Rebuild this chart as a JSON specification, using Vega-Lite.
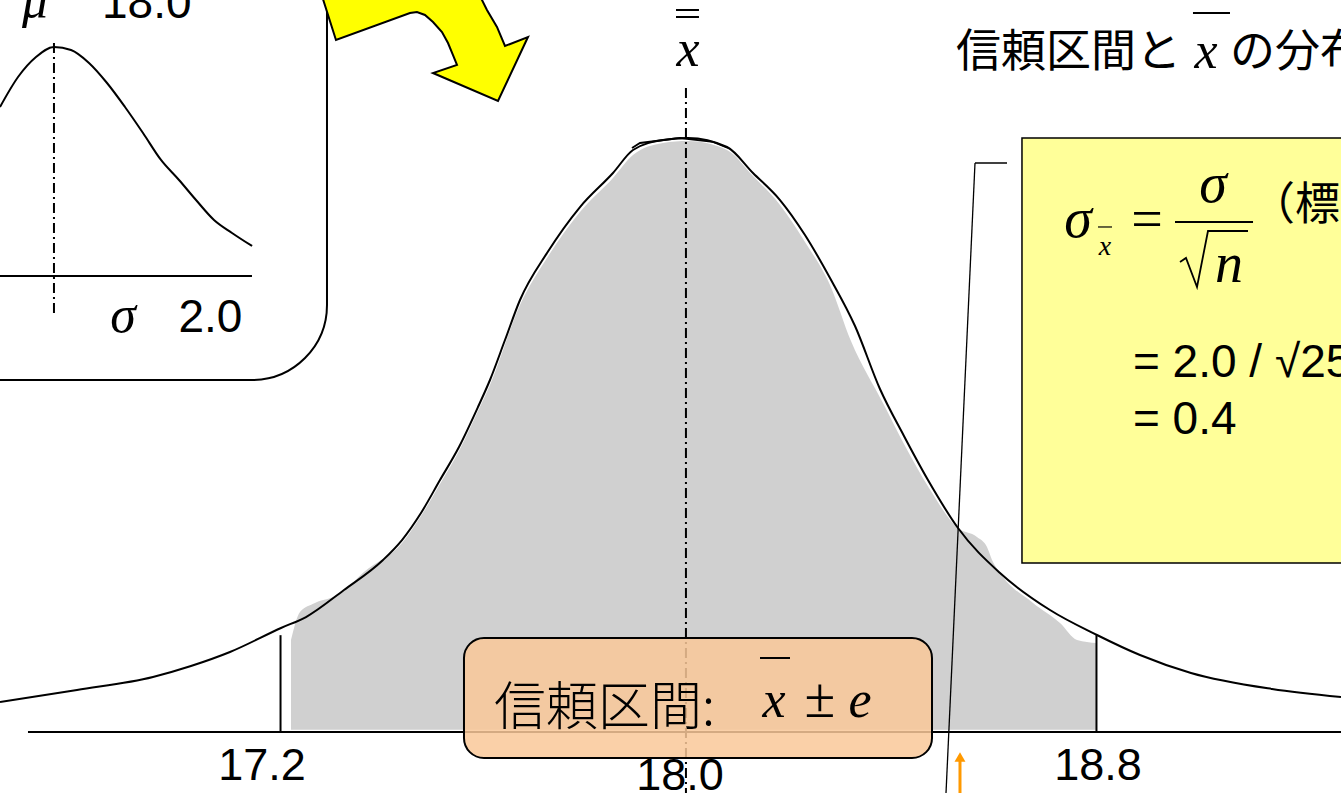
{
  "$schema": "https://vega.github.io/schema/vega-lite/v6.json",
  "width": 1341,
  "height": 793,
  "autosize": {"type": "fit", "contains": "padding"},
  "padding": 0,
  "background": "white",
  "config": {"view": {"stroke": null}},
  "datasets": {
    "curve": [
      {"x": 16.6526, "y": 0.0505}, {"x": 16.8034, "y": 0.0707}, {"x": 16.9522, "y": 0.0926}, {"x": 17.0266, "y": 0.1111},
      {"x": 17.103, "y": 0.1347}, {"x": 17.2029, "y": 0.1751}, {"x": 17.2519, "y": 0.1936}, {"x": 17.3263, "y": 0.2391},
      {"x": 17.4027, "y": 0.2896}, {"x": 17.4399, "y": 0.3232}, {"x": 17.4771, "y": 0.3687}, {"x": 17.5143, "y": 0.4242},
      {"x": 17.5515, "y": 0.4798}, {"x": 17.5887, "y": 0.5471}, {"x": 17.6122, "y": 0.5926}, {"x": 17.6416, "y": 0.6599},
      {"x": 17.671, "y": 0.7273}, {"x": 17.7239, "y": 0.8064}, {"x": 17.7885, "y": 0.8838}, {"x": 17.8531, "y": 0.9411},
      {"x": 17.8923, "y": 0.9798}, {"x": 17.951, "y": 0.9966}, {"x": 18.0, "y": 1.0}, {"x": 18.0764, "y": 0.9848},
      {"x": 18.1273, "y": 0.9411}, {"x": 18.1802, "y": 0.8956}, {"x": 18.2291, "y": 0.8367}, {"x": 18.2781, "y": 0.7643},
      {"x": 18.3271, "y": 0.6835}, {"x": 18.376, "y": 0.5774}, {"x": 18.423, "y": 0.4983}, {"x": 18.47, "y": 0.4242},
      {"x": 18.5288, "y": 0.3434}, {"x": 18.6111, "y": 0.2677}, {"x": 18.709, "y": 0.2054}, {"x": 18.801, "y": 0.1633},
      {"x": 18.8852, "y": 0.1296}, {"x": 18.9851, "y": 0.0993}, {"x": 19.1438, "y": 0.0724}, {"x": 19.2789, "y": 0.0589}
    ],
    "shade": [
      {"x": 17.2225, "y": 0.1549}, {"x": 17.2401, "y": 0.202}, {"x": 17.2695, "y": 0.2172}, {"x": 17.3184, "y": 0.2323},
      {"x": 17.3654, "y": 0.2694}, {"x": 17.4399, "y": 0.3182}, {"x": 17.4771, "y": 0.3636}, {"x": 17.5143, "y": 0.4175},
      {"x": 17.5515, "y": 0.4731}, {"x": 17.5887, "y": 0.5404}, {"x": 17.6122, "y": 0.5842}, {"x": 17.671, "y": 0.7189},
      {"x": 17.7239, "y": 0.798}, {"x": 17.7885, "y": 0.8754}, {"x": 17.8531, "y": 0.9327}, {"x": 17.8923, "y": 0.9714},
      {"x": 17.951, "y": 0.9916}, {"x": 18.0, "y": 0.9949}, {"x": 18.0764, "y": 0.9798}, {"x": 18.1273, "y": 0.936},
      {"x": 18.1802, "y": 0.8872}, {"x": 18.2291, "y": 0.8249}, {"x": 18.2781, "y": 0.7525}, {"x": 18.3192, "y": 0.6582},
      {"x": 18.3839, "y": 0.5505}, {"x": 18.423, "y": 0.4848}, {"x": 18.472, "y": 0.4108}, {"x": 18.5288, "y": 0.3434},
      {"x": 18.566, "y": 0.3283}, {"x": 18.5856, "y": 0.3114}, {"x": 18.5954, "y": 0.2896}, {"x": 18.6111, "y": 0.2677},
      {"x": 18.6757, "y": 0.2172}, {"x": 18.7286, "y": 0.1835}, {"x": 18.7619, "y": 0.1549}, {"x": 18.801, "y": 0.1498}
    ],
    "inset": [
      {"x": 16.6526, "y": 1.0522}, {"x": 16.6879, "y": 1.1027}, {"x": 16.7231, "y": 1.1364}, {"x": 16.7584, "y": 1.1532},
      {"x": 16.7917, "y": 1.1481}, {"x": 16.8269, "y": 1.1263}, {"x": 16.8622, "y": 1.0926}, {"x": 16.8974, "y": 1.0522},
      {"x": 16.9327, "y": 1.0084}, {"x": 16.9679, "y": 0.963}, {"x": 17.0032, "y": 0.9293}, {"x": 17.0365, "y": 0.8956},
      {"x": 17.0717, "y": 0.862}, {"x": 17.107, "y": 0.8401}, {"x": 17.1462, "y": 0.8182}
    ],
    "segs": [
      {"kind": "solid", "x": 16.7074, "x2": 19.2789, "y": 0, "y2": 0},
      {"kind": "solid", "x": 17.202, "x2": 17.202, "y": 0, "y2": 0.163},
      {"kind": "solid", "x": 18.8, "x2": 18.8, "y": 0, "y2": 0.163},
      {"kind": "solid", "x": 16.6526, "x2": 17.1461, "y": 0.7677, "y2": 0.7677},
      {"kind": "solid", "x": 17.9765, "x2": 18.0215, "y": 1.2155, "y2": 1.2155},
      {"kind": "solid", "x": 17.9765, "x2": 18.0215, "y": 1.2037, "y2": 1.2037},
      {"kind": "solid", "x": 18.989, "x2": 19.0615, "y": 1.2104, "y2": 1.2104},
      {"kind": "over", "x": 18.9538, "x2": 19.1066, "y": 0.8586, "y2": 0.8586},
      {"kind": "over", "x": 18.141, "x2": 18.1998, "y": 0.1246, "y2": 0.1246},
      {"kind": "overthin", "x": 18.803, "x2": 18.8304, "y": 0.8502, "y2": 0.8502},
      {"kind": "thin", "x": 18.5621, "x2": 18.5044, "y": 0.9579, "y2": -0.12},
      {"kind": "thin", "x": 18.5621, "x2": 18.6248, "y": 0.9579, "y2": 0.9579},
      {"kind": "dashdot", "x": 17.996, "x2": 17.996, "y": 1.0842, "y2": -0.12},
      {"kind": "dashdot", "x": 16.7583, "x2": 16.7583, "y": 1.1599, "y2": 0.702},
      {"kind": "orange", "x": 18.5327, "x2": 18.5327, "y": -0.0471, "y2": -0.12}
    ],
    "boxes": [
      {"kind": "inset", "x": 16.4567, "x2": 17.293, "y": 1.367, "y2": 0.5926},
      {"kind": "note", "x": 18.6541, "x2": 19.3945, "y": 1.0, "y2": 0.2845},
      {"kind": "ci", "x": 17.5613, "x2": 18.4779, "y": 0.1582, "y2": -0.0438}
    ],
    "arrow": [
      {"o": 1, "x": 17.2832, "y": 1.2391}, {"o": 2, "x": 17.3106, "y": 1.165}, {"o": 3, "x": 17.4555, "y": 1.2104},
      {"o": 4, "x": 17.4692, "y": 1.2121}, {"o": 5, "x": 17.4849, "y": 1.2071}, {"o": 6, "x": 17.5006, "y": 1.1953},
      {"o": 7, "x": 17.5182, "y": 1.1785}, {"o": 8, "x": 17.53, "y": 1.1599}, {"o": 9, "x": 17.5398, "y": 1.1397},
      {"o": 10, "x": 17.5476, "y": 1.1229}, {"o": 11, "x": 17.5006, "y": 1.1094}, {"o": 12, "x": 17.6279, "y": 1.0623},
      {"o": 13, "x": 17.6866, "y": 1.17}, {"o": 14, "x": 17.6416, "y": 1.1549}, {"o": 15, "x": 17.6259, "y": 1.1869},
      {"o": 16, "x": 17.6063, "y": 1.2155}, {"o": 17, "x": 17.5926, "y": 1.2391}, {"o": 18, "x": 17.2832, "y": 1.2391}
    ],
    "paths": [
      {"g": "sqrt", "o": 1, "x": 18.9636, "y": 0.7912}, {"g": "sqrt", "o": 2, "x": 18.9753, "y": 0.798},
      {"g": "sqrt", "o": 3, "x": 18.9969, "y": 0.7492}, {"g": "sqrt", "o": 4, "x": 19.0184, "y": 0.8434},
      {"g": "sqrt", "o": 5, "x": 19.0968, "y": 0.8434},
      {"g": "peak", "o": 1, "x": 17.8903, "y": 0.9832}, {"g": "peak", "o": 2, "x": 17.906, "y": 0.9916},
      {"g": "peak", "o": 3, "x": 17.9843, "y": 1.0}, {"g": "peak", "o": 4, "x": 18.049, "y": 0.9933},
      {"g": "peak", "o": 5, "x": 18.0783, "y": 0.9832}
    ],
    "marker": [{"x": 18.5327, "y": -0.0421}],
    "texts": [
      {"role": "tick", "x": 17.1657, "y": -0.0808, "t": "17.2"},
      {"role": "tick", "x": 17.9843, "y": -0.0976, "t": "18.0"},
      {"role": "tick", "x": 18.803, "y": -0.0808, "t": "18.8"},
      {"role": "num", "x": 16.8524, "y": 1.202, "t": "18.0"},
      {"role": "num", "x": 17.0022, "y": 0.6734, "t": "2.0"},
      {"role": "num", "x": 18.8715, "y": 0.5976, "t": "= 2.0 / √25"},
      {"role": "num", "x": 18.8715, "y": 0.5017, "t": "= 0.4"},
      {"role": "var", "x": 16.7211, "y": 1.2037, "t": "μ"},
      {"role": "var", "x": 16.8935, "y": 0.6734, "t": "σ"},
      {"role": "var", "x": 18.0, "y": 1.1212, "t": "x"},
      {"role": "var", "x": 19.0145, "y": 1.1178, "t": "x"},
      {"role": "var", "x": 18.1684, "y": 0.0253, "t": "x"},
      {"role": "var", "x": 18.3369, "y": 0.0253, "t": "e"},
      {"role": "formula", "x": 18.7638, "y": 0.8333, "t": "σ"},
      {"role": "formula", "x": 19.0282, "y": 0.8923, "t": "σ"},
      {"role": "formula", "x": 19.0595, "y": 0.7576, "t": "n"},
      {"role": "sub", "x": 18.8167, "y": 0.803, "t": "x"},
      {"role": "op", "x": 18.899, "y": 0.8316, "t": "="},
      {"role": "op", "x": 18.2585, "y": 0.0253, "t": "±"},
      {"role": "jp", "x": 18.5249, "y": 1.1195, "t": "信頼区間と"},
      {"role": "jp", "x": 19.0615, "y": 1.1195, "t": "の分布"},
      {"role": "jp", "x": 19.1007, "y": 0.862, "t": "（標準誤差）"},
      {"role": "jpbox", "x": 17.6201, "y": 0.0118, "t": "信頼区間:"}
    ]
  },
  "encoding": {
    "x": {"field": "x", "type": "quantitative", "scale": {"domain": [16.6526, 19.2789], "nice": false, "zero": false}, "axis": null},
    "y": {"field": "y", "type": "quantitative", "scale": {"domain": [-0.10269, 1.23232], "nice": false, "zero": false}, "axis": null}
  },
  "layer": [
    {
      "data": {"name": "shade"},
      "mark": {"type": "area", "color": "#d0d0d0", "interpolate": "monotone", "clip": true},
      "encoding": {"y2": {"datum": 0.004}}
    },
    {
      "data": {"name": "curve"},
      "mark": {"type": "line", "color": "black", "strokeWidth": 2, "interpolate": "monotone", "clip": true},
      "encoding": {}
    },
    {
      "data": {"name": "segs"},
      "transform": [{"filter": "datum.kind === 'solid'"}],
      "mark": {"type": "rule", "color": "black", "strokeWidth": 2, "clip": true},
      "encoding": {"x2": {"field": "x2"}, "y2": {"field": "y2"}}
    },
    {
      "data": {"name": "segs"},
      "transform": [{"filter": "datum.kind === 'thin'"}],
      "mark": {"type": "rule", "color": "black", "strokeWidth": 1.3, "clip": true},
      "encoding": {"x2": {"field": "x2"}, "y2": {"field": "y2"}}
    },
    {
      "data": {"name": "segs"},
      "transform": [{"filter": "datum.kind === 'dashdot'"}],
      "mark": {"type": "rule", "color": "black", "strokeWidth": 2, "strokeDash": [10, 4, 2, 4], "clip": true},
      "encoding": {"x2": {"field": "x2"}, "y2": {"field": "y2"}}
    },
    {
      "data": {"name": "boxes"},
      "transform": [{"filter": "datum.kind === 'inset'"}],
      "mark": {"type": "rect", "fill": "white", "fillOpacity": 0, "stroke": "black", "strokeWidth": 2, "cornerRadius": 75, "clip": true},
      "encoding": {"x2": {"field": "x2"}, "y2": {"field": "y2"}}
    },
    {
      "data": {"name": "inset"},
      "mark": {"type": "line", "color": "black", "strokeWidth": 2, "interpolate": "monotone", "clip": true},
      "encoding": {}
    },
    {
      "data": {"name": "boxes"},
      "transform": [{"filter": "datum.kind === 'note'"}],
      "mark": {"type": "rect", "fill": "#ffff99", "stroke": "black", "strokeWidth": 1.5, "clip": true},
      "encoding": {"x2": {"field": "x2"}, "y2": {"field": "y2"}}
    },
    {
      "data": {"name": "boxes"},
      "transform": [{"filter": "datum.kind === 'ci'"}],
      "mark": {"type": "rect", "fill": "#f9c899", "fillOpacity": 0.85, "stroke": "black", "strokeWidth": 2, "cornerRadius": 20, "clip": true},
      "encoding": {"x2": {"field": "x2"}, "y2": {"field": "y2"}}
    },
    {
      "data": {"name": "segs"},
      "transform": [{"filter": "datum.kind === 'over'"}],
      "mark": {"type": "rule", "color": "black", "strokeWidth": 2, "clip": true},
      "encoding": {"x2": {"field": "x2"}, "y2": {"field": "y2"}}
    },
    {
      "data": {"name": "segs"},
      "transform": [{"filter": "datum.kind === 'overthin'"}],
      "mark": {"type": "rule", "color": "black", "strokeWidth": 1.2, "clip": true},
      "encoding": {"x2": {"field": "x2"}, "y2": {"field": "y2"}}
    },
    {
      "data": {"name": "segs"},
      "transform": [{"filter": "datum.kind === 'orange'"}],
      "mark": {"type": "rule", "color": "#ff9900", "strokeWidth": 3, "clip": true},
      "encoding": {"x2": {"field": "x2"}, "y2": {"field": "y2"}}
    },
    {
      "data": {"name": "marker"},
      "mark": {"type": "point", "shape": "triangle-up", "filled": true, "color": "#ff9900", "size": 120, "opacity": 1, "clip": true},
      "encoding": {}
    },
    {
      "data": {"name": "paths"},
      "mark": {"type": "line", "color": "black", "strokeWidth": 1.8, "clip": true},
      "encoding": {"detail": {"field": "g"}, "order": {"field": "o", "type": "quantitative"}}
    },
    {
      "data": {"name": "arrow"},
      "mark": {"type": "line", "stroke": "black", "fill": "#ffff00", "strokeWidth": 2, "strokeJoin": "miter", "clip": true},
      "encoding": {"order": {"field": "o", "type": "quantitative"}}
    },
    {
      "data": {"name": "texts"},
      "transform": [{"filter": "datum.role === 'tick'"}],
      "mark": {"type": "text", "font": "Liberation Sans", "fontSize": 45, "align": "center", "baseline": "alphabetic", "color": "black", "clip": true},
      "encoding": {"text": {"field": "t"}}
    },
    {
      "data": {"name": "texts"},
      "transform": [{"filter": "datum.role === 'num'"}],
      "mark": {"type": "text", "font": "Liberation Sans", "fontSize": 46, "align": "left", "baseline": "alphabetic", "color": "black", "clip": true},
      "encoding": {"text": {"field": "t"}}
    },
    {
      "data": {"name": "texts"},
      "transform": [{"filter": "datum.role === 'var'"}],
      "mark": {"type": "text", "font": "Liberation Serif", "fontStyle": "italic", "fontSize": 52, "align": "center", "baseline": "alphabetic", "color": "black", "clip": true},
      "encoding": {"text": {"field": "t"}}
    },
    {
      "data": {"name": "texts"},
      "transform": [{"filter": "datum.role === 'formula'"}],
      "mark": {"type": "text", "font": "Liberation Serif", "fontStyle": "italic", "fontSize": 56, "align": "center", "baseline": "alphabetic", "color": "black", "clip": true},
      "encoding": {"text": {"field": "t"}}
    },
    {
      "data": {"name": "texts"},
      "transform": [{"filter": "datum.role === 'sub'"}],
      "mark": {"type": "text", "font": "Liberation Serif", "fontStyle": "italic", "fontSize": 28, "align": "center", "baseline": "alphabetic", "color": "black", "clip": true},
      "encoding": {"text": {"field": "t"}}
    },
    {
      "data": {"name": "texts"},
      "transform": [{"filter": "datum.role === 'op'"}],
      "mark": {"type": "text", "font": "Liberation Serif", "fontSize": 56, "align": "center", "baseline": "alphabetic", "color": "black", "clip": true},
      "encoding": {"text": {"field": "t"}}
    },
    {
      "data": {"name": "texts"},
      "transform": [{"filter": "datum.role === 'jp'"}],
      "mark": {"type": "text", "font": "Noto Sans CJK JP", "fontSize": 45, "align": "left", "baseline": "alphabetic", "color": "black", "clip": true},
      "encoding": {"text": {"field": "t"}}
    },
    {
      "data": {"name": "texts"},
      "transform": [{"filter": "datum.role === 'jpbox'"}],
      "mark": {"type": "text", "font": "Noto Sans CJK JP", "fontWeight": 300, "fontSize": 52, "align": "left", "baseline": "alphabetic", "color": "black", "clip": true},
      "encoding": {"text": {"field": "t"}}
    }
  ]
}
